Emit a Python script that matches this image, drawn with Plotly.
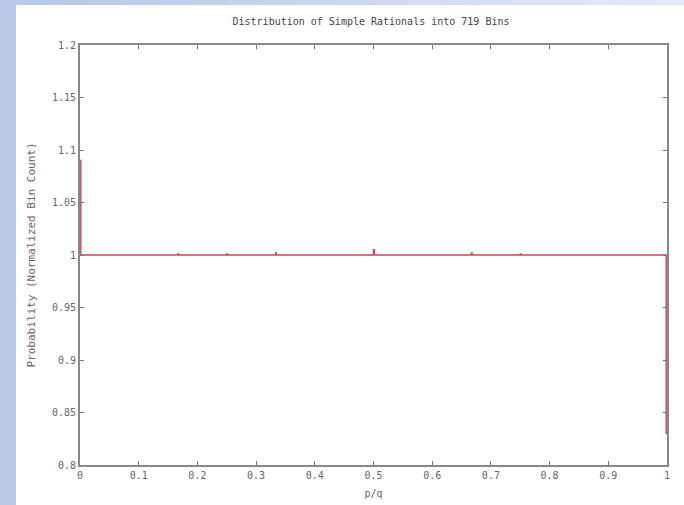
import plotly.graph_objects as go

# Data: bin left edges (p/q) and normalized bin counts
bin_left = [0.0, 0.0014, 0.1667, 0.1681, 0.25, 0.2514, 0.3333, 0.3347,
            0.5, 0.5014, 0.6667, 0.6681, 0.75, 0.7514, 0.9986, 1.0]
bin_prob = [1.09, 1.0, 1.001, 1.0, 1.001, 1.0, 1.002, 1.0,
            1.005, 1.0, 1.002, 1.0, 1.001, 1.0, 0.83, 0.83]

x_ticks = [0, 0.1, 0.2, 0.3, 0.4, 0.5, 0.6, 0.7, 0.8, 0.9, 1.0]
x_labels = ["0", "0.1", "0.2", "0.3", "0.4", "0.5", "0.6", "0.7", "0.8", "0.9", "1"]
y_ticks = [0.8, 0.85, 0.9, 0.95, 1.0, 1.05, 1.1, 1.15, 1.2]
y_labels = ["0.8", "0.85", "0.9", "0.95", "1", "1.05", "1.1", "1.15", "1.2"]

FONT = "DejaVu Sans Mono"
GREY = "#666666"

fig = go.Figure()
fig.add_trace(go.Scatter(
    x=bin_left, y=bin_prob, mode="lines", line_shape="hv",
    line=dict(color="rgb(205,70,85)", width=1.4), showlegend=False,
))

# slide-like background: blue strip left, gradient strip on top, white panel
shapes = [dict(type="rect", xref="paper", yref="paper", x0=-0.109, x1=1.1,
               y0=-0.2, y1=1.095, fillcolor="white", line_width=0, layer="below")]
n = 20
for i in range(n):
    t = i / (n - 1)
    r = int(184 + (232 - 184) * t)
    g = int(200 + (234 - 200) * t)
    b = int(232 + (247 - 232) * t)
    shapes.append(dict(type="rect", xref="paper", yref="paper",
                       x0=-0.109 + i * (1.21 / n), x1=-0.109 + (i + 1) * (1.21 / n) + 0.002,
                       y0=1.095, y1=1.12, fillcolor=f"rgb({r},{g},{b})",
                       line_width=0, layer="below"))

fig.update_layout(
    width=684, height=505,
    margin=dict(l=80, r=17, t=45, b=40),
    paper_bgcolor="#b8c8e8", plot_bgcolor="white",
    shapes=shapes,
    title=dict(text="Distribution of Simple Rationals into 719 Bins",
               x=(371 - 80) / 587, xref="paper", xanchor="center",
               y=1 - 21 / 505, yanchor="middle",
               font=dict(family=FONT, size=10, color="#444444")),
    font=dict(family=FONT, size=10, color=GREY),
)
fig.update_xaxes(range=[0, 1], tickvals=x_ticks, ticktext=x_labels,
                 ticks="inside", ticklen=4, tickcolor="#777", tickwidth=1,
                 showline=True, linecolor="#888", linewidth=2, mirror="ticks",
                 showgrid=False, zeroline=False, automargin=False,
                 tickfont=dict(family=FONT, size=10, color=GREY),
                 title=dict(text="p/q", font=dict(family=FONT, size=10, color=GREY), standoff=10))
fig.update_yaxes(range=[0.8, 1.2], tickvals=y_ticks, ticktext=y_labels,
                 ticks="inside", ticklen=4, tickcolor="#777", tickwidth=1,
                 showline=True, linecolor="#888", linewidth=2, mirror="ticks",
                 showgrid=False, zeroline=False, automargin=False,
                 tickfont=dict(family=FONT, size=10, color=GREY),
                 title=dict(text="Probability (Normalized Bin Count)",
                            font=dict(family=FONT, size=11, color=GREY), standoff=14))

fig.write_html("out.html")
